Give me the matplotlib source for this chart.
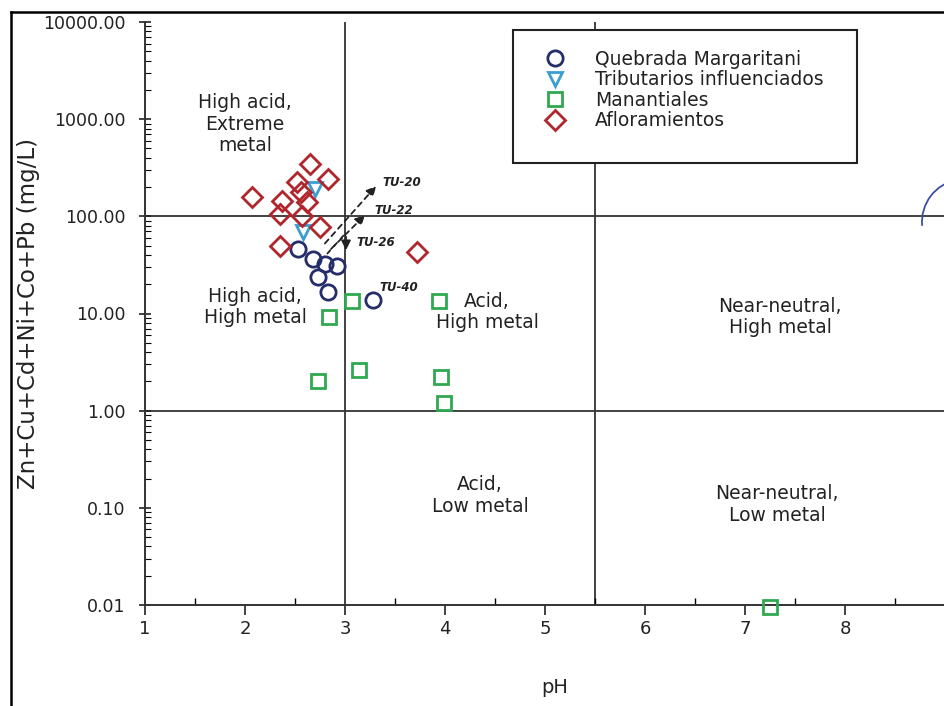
import numpy as np
import matplotlib
matplotlib.use('Agg')
from matplotlib import pyplot as plt
from matplotlib.lines import Line2D
from matplotlib.patches import Arc, Rectangle
from matplotlib.ticker import FixedLocator, NullFormatter

# Quebrada Margaritani
qm_ph = [2.53, 2.68, 2.80, 2.92, 2.73, 2.83, 3.28]
qm_metal = [46, 36, 32.5, 31, 23.7, 16.6, 13.8]
# Tributarios influenciados
ti_ph = [2.70, 2.58]
ti_metal = [190, 69]
# Manantiales
ma_ph = [3.07, 2.84, 3.94, 2.73, 3.14, 3.96, 3.99, 7.25]
ma_metal = [13.6, 9.2, 13.6, 2.0, 2.6, 2.2, 1.2, 0.0095]
# Afloramientos
af_ph = [2.65, 2.83, 2.07, 2.52, 2.37, 2.62, 2.35, 2.57, 2.75, 2.35, 3.72, 2.56]
af_metal = [346, 242, 158, 226, 144, 141, 106, 101, 78, 50, 43, 180]

regions = ['High acid,\nExtreme\nmetal', 'High acid,\nHigh metal', 'Acid,\nHigh metal',
           'Acid,\nLow metal', 'Near-neutral,\nHigh metal', 'Near-neutral,\nLow metal']
region_x = [2.0, 2.1, 4.42, 4.35, 7.35, 7.32]
region_y = [890, 11.7, 10.4, 0.134, 9.2, 0.108]

y_ticks = [0.01, 0.1, 1, 10, 100, 1000, 10000]

fig = plt.figure(figsize=(9.44, 7.06), dpi=100)
ax = fig.add_axes([145 / 944, 1 - 605 / 706, 799 / 944, 583 / 706])
ax.set_yscale('log')
ax.set_xlim(1, 8.99)
ax.set_ylim(0.01, 10000)

for s in ['top', 'right']:
    ax.spines[s].set_visible(False)
for s in ['left', 'bottom']:
    ax.spines[s].set_linewidth(1.4)
    ax.spines[s].set_color('#333333')

ax.set_xticks(range(1, 9))
ax.xaxis.set_minor_locator(FixedLocator(np.arange(1.5, 9, 1.0)))
ax.tick_params(axis='x', which='major', direction='out', length=7, width=1.2, pad=4, labelsize=13, colors='#222222')
ax.tick_params(axis='x', which='minor', direction='in', length=5, width=1.0)
ax.set_yticks(y_ticks)
ax.set_yticklabels(['%.2f' % v for v in y_ticks])
ax.yaxis.set_minor_formatter(NullFormatter())
ax.tick_params(axis='y', which='major', direction='inout', length=8, width=1.2, pad=10, labelsize=12.5, colors='#222222')
ax.tick_params(axis='y', which='minor', direction='in', length=4, width=0.8)

# field boundaries
line_kw = dict(color='#333333', lw=1.3, zorder=1)
ax.axhline(100, **line_kw)
ax.axhline(1, **line_kw)
ax.axvline(3, **line_kw)
ax.axvline(5.5, **line_kw)

for t, x, y in zip(regions, region_x, region_y):
    ax.text(x, y, t, ha='center', va='center', fontsize=13.5, color='#222222', linespacing=1.15)

ax.plot(qm_ph, qm_metal, 'o', ms=11, mfc='none', mec='#252d6a', mew=2, ls='none', label='Quebrada Margaritani', zorder=4)
ax.plot(ti_ph, ti_metal, 'v', ms=10, mfc='none', mec='#3a9fd0', mew=2, ls='none', label='Tributarios influenciados', zorder=4)
ax.plot(ma_ph, ma_metal, 's', ms=10, mfc='none', mec='#2fa84f', mew=2, ls='none', label='Manantiales', zorder=4, clip_on=False)
ax.plot(af_ph, af_metal, 'D', ms=10, mfc='none', mec='#b0262c', mew=2, ls='none', label='Afloramientos', zorder=4)

# dashed arrows
arr = dict(arrowstyle='-|>', ls=(0, (3, 2.5)), color='#222222', lw=1.3, mutation_scale=14)
ax.annotate('', xy=(3.33, 215), xytext=(2.78, 50), arrowprops=arr)
ax.annotate('', xy=(3.22, 108), xytext=(2.84, 44), arrowprops=arr)
ax.plot([2.82, 3.0], [41, 66], ls=(0, (3, 2.5)), color='#222222', lw=1.3)
ax.annotate('', xy=(3.01, 42), xytext=(3.01, 66), arrowprops=dict(arrowstyle='-|>', color='#222222', lw=1.3, mutation_scale=14))
tu_kw = dict(fontsize=8.5, fontstyle='italic', fontweight='bold', color='#222222', va='center', ha='left')
ax.text(3.37, 225, 'TU-20', **tu_kw)
ax.text(3.29, 114, 'TU-22', **tu_kw)
ax.text(3.11, 54, 'TU-26', **tu_kw)
ax.text(3.34, 18.5, 'TU-40', **tu_kw)

# legend box drawn separately, entries placed inside it
ax.add_patch(Rectangle((0.4606, 0.758), 0.4305, 0.2285, transform=ax.transAxes, fc='white',
                       ec='#222222', lw=1.5, zorder=5))
leg = ax.legend(loc='upper left', bbox_to_anchor=(0.49, 0.952), fontsize=13.5, frameon=False,
                labelspacing=0.08, handlelength=2.0, handletextpad=1.1, borderpad=0, borderaxespad=0)
leg.set_zorder(6)
for txt in leg.get_texts():
    txt.set_color('#222222')

ax.set_xlabel('pH', fontsize=14, color='#222222')
ax.set_ylabel('Zn+Cu+Cd+Ni+Co+Pb (mg/L)', fontsize=16.5, color='#222222')
ax.yaxis.set_label_coords(-0.131, 0.5)
ax.xaxis.set_label_coords(0.513, -0.125)

# partial curve at the right edge
fig.add_artist(Arc((9.65, 4.84), 0.86, 0.86, theta1=100, theta2=185, color='#3a4fa0', lw=1.3,
                   transform=fig.dpi_scale_trans))

# scan frame
fig.add_artist(Line2D([11 / 944, 11 / 944], [0, 1 - 12 / 706], color='black', lw=1.8))
fig.add_artist(Line2D([11 / 944, 1], [1 - 12 / 706, 1 - 12 / 706], color='black', lw=1.8))

plt.savefig('out.png', dpi=100)
